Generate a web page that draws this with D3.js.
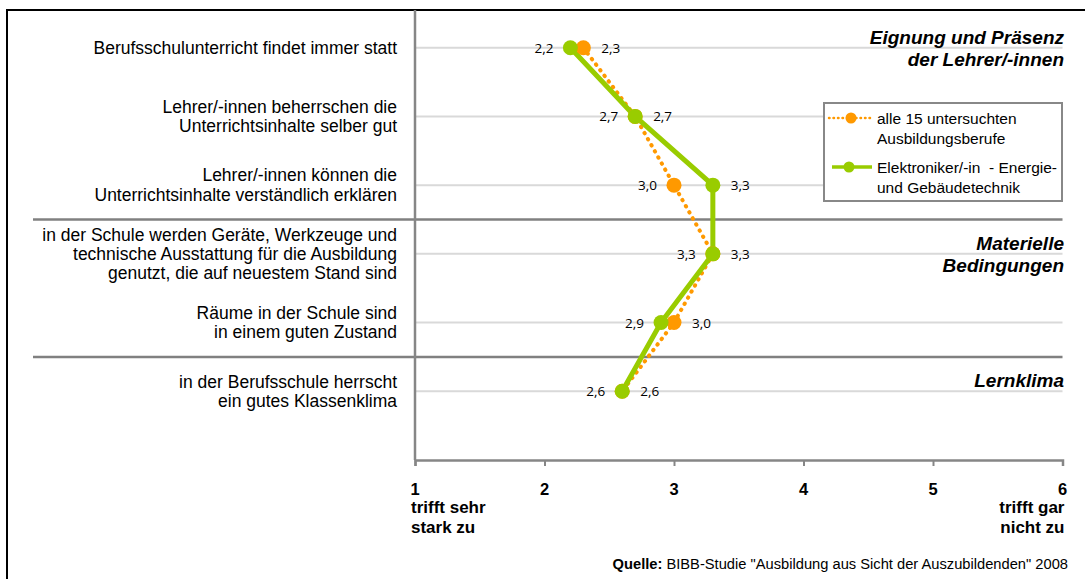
<!DOCTYPE html>
<html><head><meta charset="utf-8">
<script src="https://cdn.jsdelivr.net/npm/d3@7"></script>
<style>html,body{margin:0;padding:0;background:#fff;}svg{display:block;}</style>
</head><body>
<svg id="chart" width="1085" height="579"></svg>
<script>
// ---- data ----
const categories = [
  ["Berufsschulunterricht findet immer statt"],
  ["Lehrer/-innen beherrschen die", "Unterrichtsinhalte selber gut"],
  ["Lehrer/-innen können die", "Unterrichtsinhalte verständlich erklären"],
  ["in der Schule werden Geräte, Werkzeuge und", "technische Ausstattung für die Ausbildung", "genutzt, die auf neuestem Stand sind"],
  ["Räume in der Schule sind", "in einem guten Zustand"],
  ["in der Berufsschule herrscht", "ein gutes Klassenklima"]
];
const allValues = [2.3, 2.7, 3.0, 3.3, 3.0, 2.6];
const elekValues = [2.2, 2.7, 3.3, 3.3, 2.9, 2.6];
const seriesNames = [["alle 15 untersuchten", "Ausbildungsberufe"], ["Elektroniker/-in  - Energie-", "und Gebäudetechnik"]];
const groupLabels = [["Eignung und Präsenz", "der Lehrer/-innen"], ["Materielle", "Bedingungen"], ["Lernklima"]];
const separators = [2.5, 4.5];
const xTicks = [1, 2, 3, 4, 5, 6];
const xEndLabels = [["trifft sehr", "stark zu"], ["trifft gar", "nicht zu"]];
const source = ["Quelle:", " BIBB-Studie \"Ausbildung aus Sicht der Auszubildenden\"  2008"];

const ORANGE = "#ff9900", GREEN = "#99cc00";
const svg = d3.select("#chart");
const x = d3.scaleLinear().domain([1, 6]).range([415, 1062.5]);
const y = d3.scaleLinear().domain([0, 6]).range([47.7, 460]);
const AR = "'Liberation Sans', Arial, sans-serif";

// frame
svg.append("line").attr("x1", 7).attr("x2", 1085).attr("y1", 10).attr("y2", 10).attr("stroke", "#000").attr("stroke-width", 2);
svg.append("line").attr("x1", 7).attr("x2", 7).attr("y1", 9).attr("y2", 579).attr("stroke", "#000").attr("stroke-width", 2);

// gridlines
svg.append("g").selectAll("line").data(categories).join("line")
  .attr("x1", x(1)).attr("x2", x(6)).attr("y1", (d, i) => y(i)).attr("y2", (d, i) => y(i))
  .attr("stroke", "#d9d9d9").attr("stroke-width", 2);

// separators
svg.append("g").selectAll("line").data(separators).join("line")
  .attr("x1", 33).attr("x2", x(6)).attr("y1", d => y(d)).attr("y2", d => y(d))
  .attr("stroke", "#808080").attr("stroke-width", 2.5);

// vertical axis
svg.append("line").attr("x1", x(1)).attr("x2", x(1)).attr("y1", 10).attr("y2", y(6))
  .attr("stroke", "#868686").attr("stroke-width", 2.5);

// bottom axis
const xAxis = d3.axisBottom(x).tickValues(xTicks).tickSize(6).tickFormat("");
const gx = svg.append("g").attr("transform", `translate(0,${y(6)})`).call(xAxis);
gx.select(".domain").attr("stroke", "#868686").attr("stroke-width", 2.5);
gx.selectAll(".tick line").attr("stroke", "#868686").attr("stroke-width", 2);

// tick labels
svg.append("g").selectAll("text").data(xTicks).join("text")
  .attr("x", d => x(d)).attr("y", 495).attr("text-anchor", "middle")
  .style("font-family", AR).style("font-weight", "bold").style("font-size", "16.5px").text(d => d);

// end labels
xEndLabels.forEach((lines, k) => {
  const t = svg.append("text").attr("text-anchor", k === 0 ? "start" : "end")
    .style("font-family", AR).style("font-weight", "bold").style("font-size", "17px");
  lines.forEach((l, j) => t.append("tspan").attr("x", k === 0 ? x(1) - 4 : x(6) + 2).attr("y", 513 + j * 20).text(l));
});

// source
const st = svg.append("text").attr("x", 1068).attr("y", 569).attr("text-anchor", "end")
  .style("font-family", AR).style("font-size", "14.7px");
st.append("tspan").style("font-weight", "bold").text(source[0]);
st.append("tspan").text(source[1]);

// category labels
categories.forEach((lines, i) => {
  const n = lines.length, lh = n === 3 ? 18.7 : 19.5;
  const t = svg.append("text").attr("text-anchor", "end")
    .style("font-family", AR).style("font-size", "17.5px").attr("fill", "#000");
  lines.forEach((l, j) => t.append("tspan").attr("x", 397)
    .attr("y", y(i) + (j - (n - 1) / 2) * lh + 6).text(l));
});

// group labels
groupLabels.forEach((lines, k) => {
  const t = svg.append("text").attr("text-anchor", "end")
    .style("font-family", AR).style("font-weight", "bold").style("font-style", "italic").style("font-size", "19px");
  const base = [44, 250, 387][k];
  lines.forEach((l, j) => t.append("tspan").attr("x", 1064).attr("y", base + j * 22).text(l));
});

// lines
const line = d3.line().x(d => x(d.v)).y(d => y(d.i));
const allPts = allValues.map((v, i) => ({ v, i }));
const elekPts = elekValues.map((v, i) => ({ v, i }));
svg.append("path").datum(allPts).attr("d", line).attr("fill", "none")
  .attr("stroke", ORANGE).attr("stroke-width", 4).attr("stroke-dasharray", "0.5 6.5").attr("stroke-linecap", "round");
svg.append("path").datum(elekPts).attr("d", line).attr("fill", "none")
  .attr("stroke", GREEN).attr("stroke-width", 5).attr("stroke-linejoin", "round");

// markers
svg.append("g").selectAll("circle").data(allPts).join("circle")
  .attr("cx", d => x(d.v)).attr("cy", d => y(d.i)).attr("r", 7.5).attr("fill", ORANGE);
svg.append("g").selectAll("circle").data(elekPts).join("circle")
  .attr("cx", d => x(d.v)).attr("cy", d => y(d.i)).attr("r", 7.5).attr("fill", GREEN);

// value labels: smaller value left, larger right
const fmt = v => v.toFixed(1).replace(".", ",");
const LF = "'Open Sans', sans-serif";
allValues.forEach((a, i) => {
  const g = elekValues[i];
  const leftV = g <= a ? g : a, rightV = g <= a ? a : g;
  svg.append("text").attr("x", x(leftV) - 17).attr("y", y(i) + 5).attr("text-anchor", "end")
    .style("font-family", LF).style("font-size", "13.5px").text(fmt(leftV));
  svg.append("text").attr("x", x(rightV) + 18).attr("y", y(i) + 5).attr("text-anchor", "start")
    .style("font-family", LF).style("font-size", "13.5px").text(fmt(rightV));
});

// legend
const lg = svg.append("g");
lg.append("rect").attr("x", 824).attr("y", 103).attr("width", 238).attr("height", 98)
  .attr("fill", "#fff").attr("stroke", "#888").attr("stroke-width", 2);
const legY = [118, 167];
[ORANGE, GREEN].forEach((c, k) => {
  lg.append("line").attr("x1", k === 0 ? 829 : 832).attr("x2", 872).attr("y1", legY[k]).attr("y2", legY[k])
    .attr("stroke", c).attr("stroke-width", k === 0 ? 2.5 : 3.5)
    .attr("stroke-dasharray", k === 0 ? "0.5 4" : null).attr("stroke-linecap", k === 0 ? "round" : "butt");
  lg.append("circle").attr("cx", k === 0 ? 851 : 849).attr("cy", legY[k]).attr("r", 5.5).attr("fill", c);
  const t = lg.append("text").style("font-family", AR).style("font-size", "15.5px").attr("xml:space", "preserve");
  seriesNames[k].forEach((l, j) => t.append("tspan").attr("x", 877).attr("y", legY[k] + 5.5 + j * 20).text(l));
});
</script>
</body></html>
